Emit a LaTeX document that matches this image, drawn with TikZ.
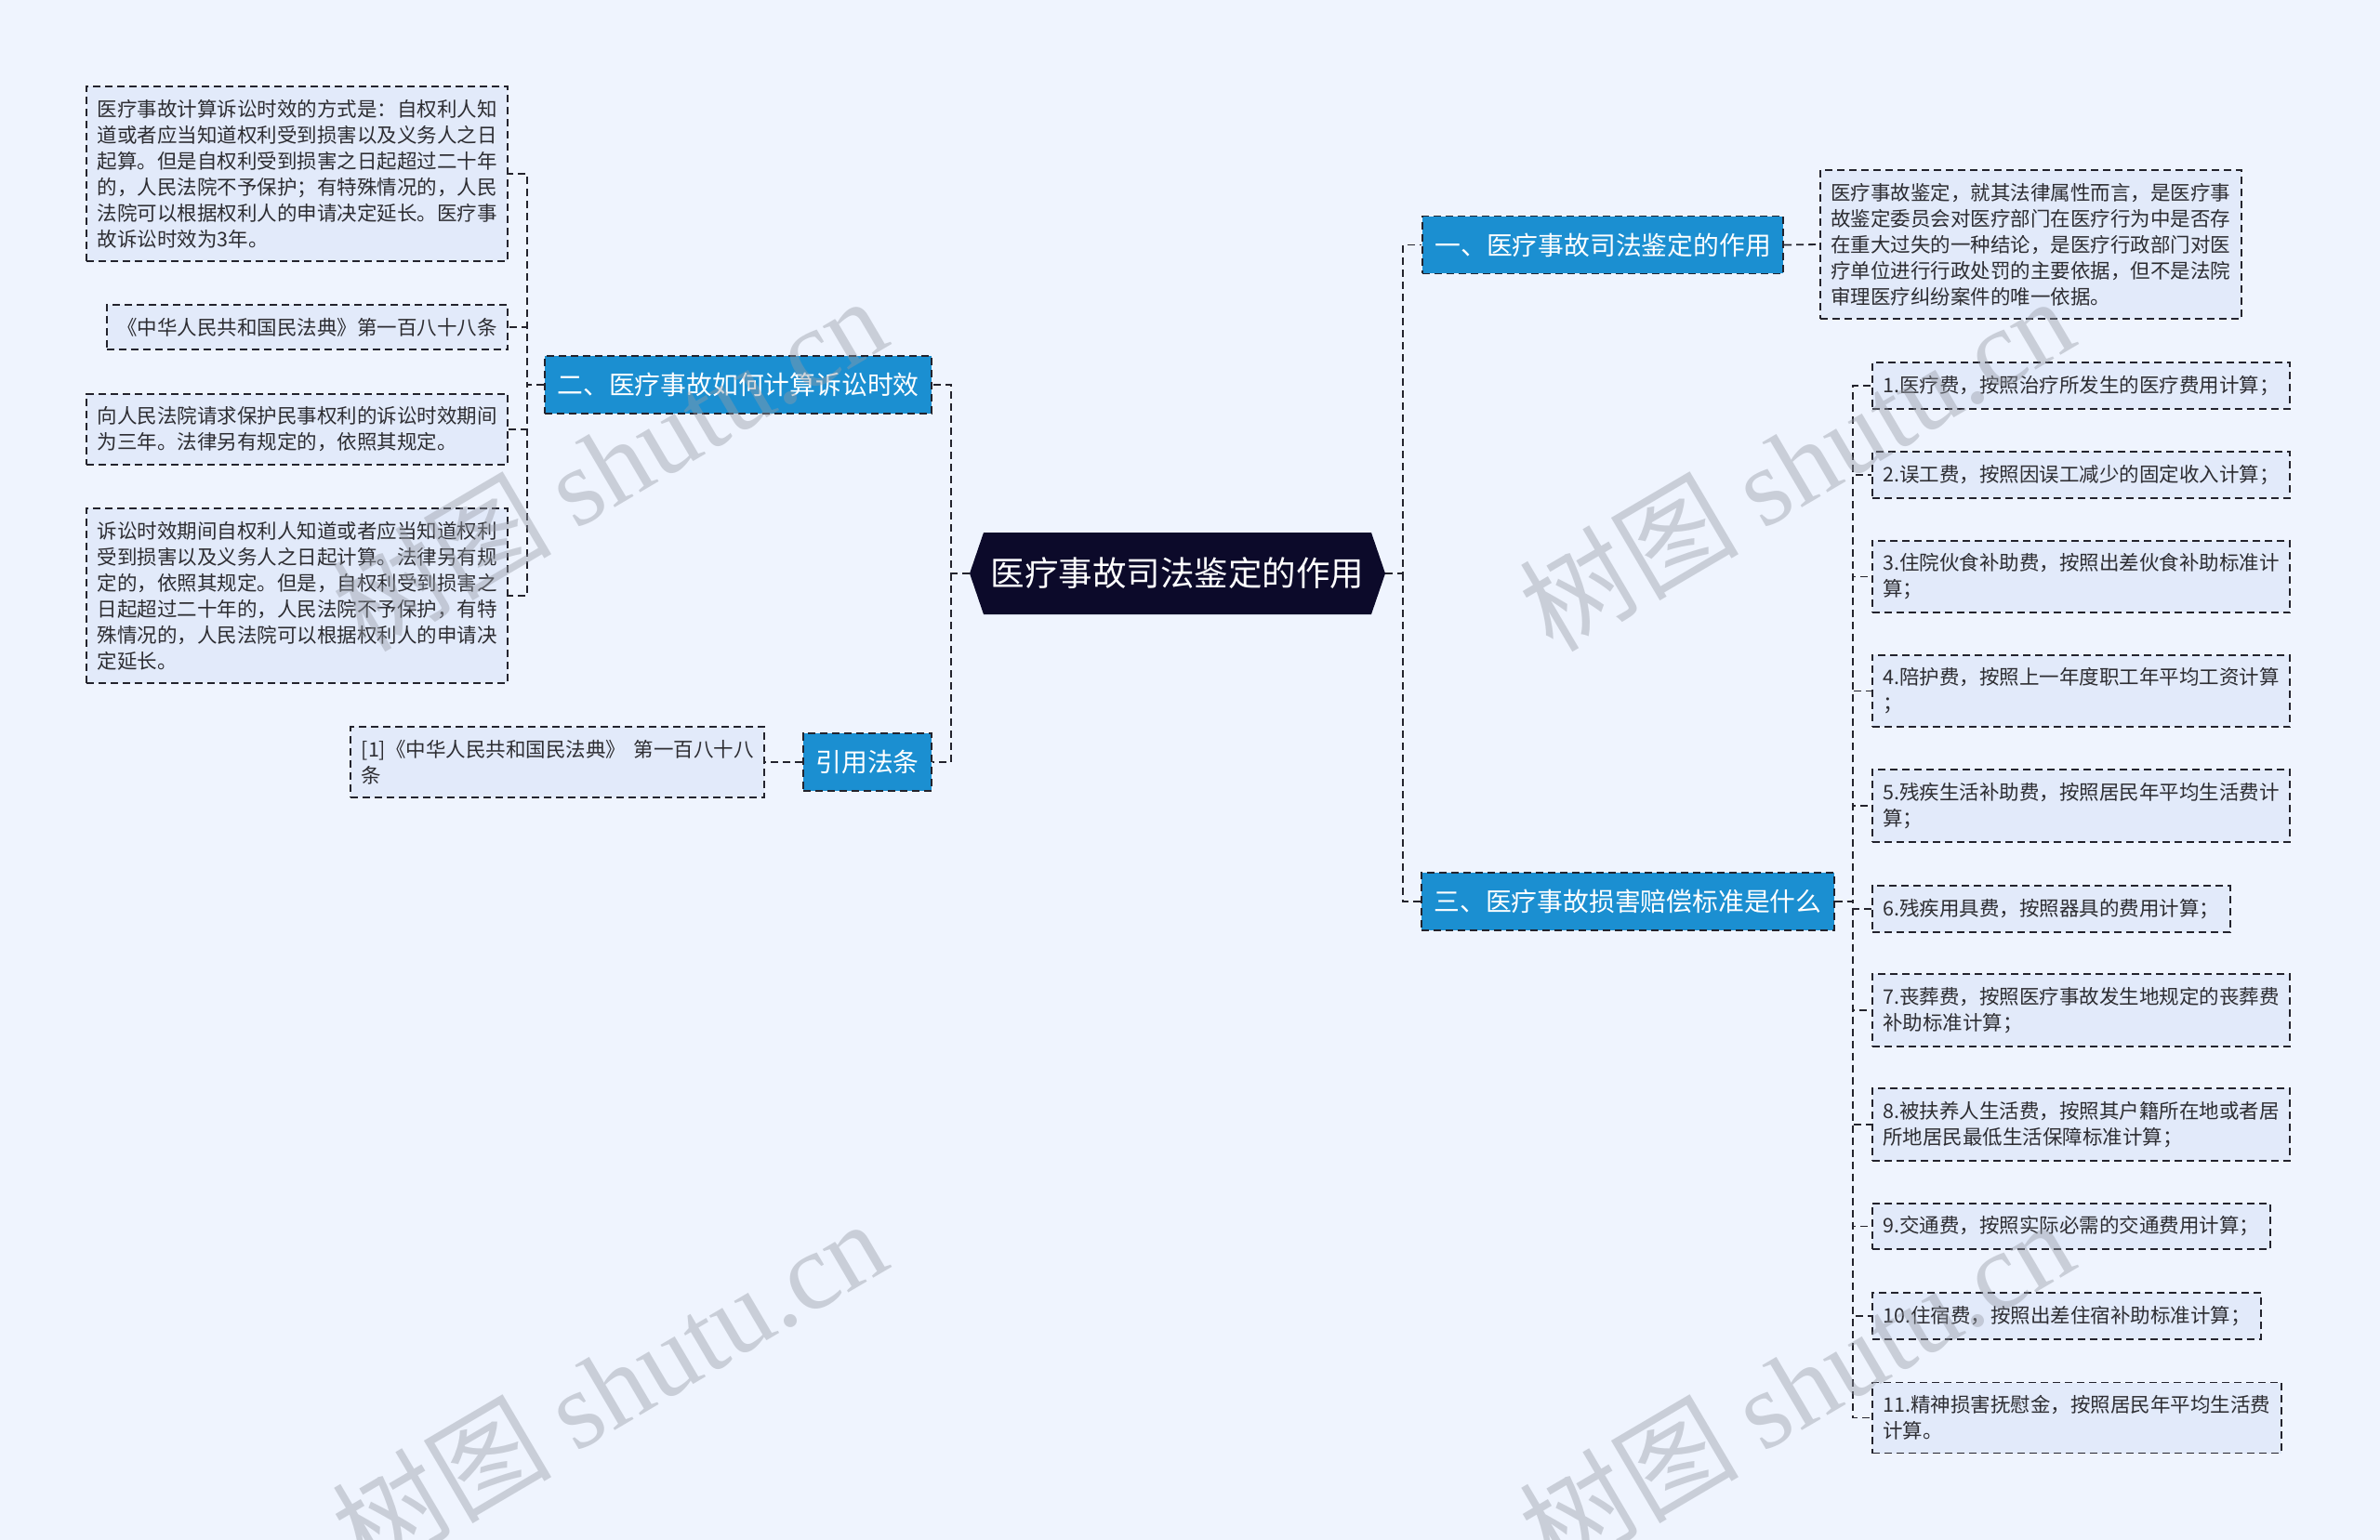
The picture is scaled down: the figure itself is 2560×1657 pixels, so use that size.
\documentclass[tikz,border=0pt]{standalone}
\usepackage{fontspec}
\setmainfont{Noto Sans CJK SC}
\newfontfamily\marksfont{Liberation Serif}

\definecolor{bgcol}{RGB}{239,244,254}
\definecolor{leafcol}{RGB}{226,234,250}
\definecolor{bluecol}{RGB}{27,143,209}
\definecolor{rootcol}{RGB}{12,10,42}
\definecolor{edgecol}{RGB}{35,35,45}
\definecolor{textcol}{RGB}{45,45,50}
\definecolor{markcol}{RGB}{150,155,165}

\tikzset{
	leaf/.style={draw=edgecol, dash pattern=on 8pt off 5pt, line width=1.8pt, fill=leafcol,
		align=left, inner xsep=11.5pt, inner ysep=14pt, text=textcol,
		font=\fontsize{21.5pt}{28pt}\selectfont},
	branch/.style={draw=edgecol, dash pattern=on 8pt off 5pt, line width=1.8pt, fill=bluecol,
		inner xsep=13.5pt, inner ysep=18pt, text=white,
		font=\fontsize{27.8pt}{34pt}\selectfont},
	link/.style={draw=edgecol, dash pattern=on 8pt off 5pt, line width=1.8pt},
	wmark/.style={text=markcol, opacity=0.42, rotate=30.5, font=\fontsize{118pt}{122pt}\selectfont},
}

\begin{document}
\begin{tikzpicture}[x=1pt, y=-1pt]
	\useasboundingbox (0,0) rectangle (2560,1657);
	\fill[bgcol] (0,0) rectangle (2560,1657);

	% root
	\fill[rootcol] (1043,617) -- (1058,573) -- (1475,573) -- (1490,617) -- (1475,661) -- (1058,661) -- cycle;
	\node[text=white, minimum width=447pt, inner sep=0pt, font=\fontsize{36.5pt}{44pt}\selectfont] (root) at (1266.5,617) {医疗事故司法鉴定的作用};

	% left side
	\node[branch, anchor=east] (b2) at (1003,414) {二、医疗事故如何计算诉讼时效};
	\node[branch, anchor=east] (cite) at (1003,820) {引用法条};

	\node[leaf, anchor=east] (la) at (547,187) {医疗事故计算诉讼时效的方式是：自权利人知\\道或者应当知道权利受到损害以及义务人之日\\起算。但是自权利受到损害之日起超过二十年\\的，人民法院不予保护；有特殊情况的，人民\\法院可以根据权利人的申请决定延长。医疗事\\故诉讼时效为3年。};
	\node[leaf, anchor=east] (lb) at (547,352) {《中华人民共和国民法典》第一百八十八条};
	\node[leaf, anchor=east] (lc) at (547,462) {向人民法院请求保护民事权利的诉讼时效期间\\为三年。法律另有规定的，依照其规定。};
	\node[leaf, anchor=east] (ld) at (547,641) {诉讼时效期间自权利人知道或者应当知道权利\\受到损害以及义务人之日起计算。法律另有规\\定的，依照其规定。但是，自权利受到损害之\\日起超过二十年的，人民法院不予保护，有特\\殊情况的，人民法院可以根据权利人的申请决\\定延长。};
	\node[leaf, anchor=east] (lf) at (823,820) {[1]《中华人民共和国民法典》\, 第一百八十八\\条};

	\coordinate (lbus) at (1023,617);
	\coordinate (b2bus) at (567,414);
	\draw[link] (root.west) -- (lbus) |- (b2.east);
	\draw[link] (lbus) |- (cite.east);
	\foreach \n in {la,lb,lc,ld}
		\draw[link] (b2.west) -- (b2bus) |- (\n.east);
	\draw[link] (cite.west) -- (lf.east);

	% right side
	\node[branch, anchor=west] (b1) at (1529,263.5) {一、医疗事故司法鉴定的作用};
	\node[branch, anchor=west] (b3) at (1528,970) {三、医疗事故损害赔偿标准是什么};

	\node[leaf, anchor=west] (le) at (1957,263) {医疗事故鉴定，就其法律属性而言，是医疗事\\故鉴定委员会对医疗部门在医疗行为中是否存\\在重大过失的一种结论，是医疗行政部门对医\\疗单位进行行政处罚的主要依据，但不是法院\\审理医疗纠纷案件的唯一依据。};

	\node[leaf, anchor=west] (r1) at (2013,415) {1.医疗费，按照治疗所发生的医疗费用计算；};
	\node[leaf, anchor=west] (r2) at (2013,511) {2.误工费，按照因误工减少的固定收入计算；};
	\node[leaf, anchor=west] (r3) at (2013,620.5) {3.住院伙食补助费，按照出差伙食补助标准计\\算；};
	\node[leaf, anchor=west] (r4) at (2013,743.5) {4.陪护费，按照上一年度职工年平均工资计算\\；};
	\node[leaf, anchor=west] (r5) at (2013,867) {5.残疾生活补助费，按照居民年平均生活费计\\算；};
	\node[leaf, anchor=west] (r6) at (2013,978) {6.残疾用具费，按照器具的费用计算；};
	\node[leaf, anchor=west] (r7) at (2013,1087) {7.丧葬费，按照医疗事故发生地规定的丧葬费\\补助标准计算；};
	\node[leaf, anchor=west] (r8) at (2013,1210) {8.被扶养人生活费，按照其户籍所在地或者居\\所地居民最低生活保障标准计算；};
	\node[leaf, anchor=west] (r9) at (2013,1319.5) {9.交通费，按照实际必需的交通费用计算；};
	\node[leaf, anchor=west] (r10) at (2013,1416) {10.住宿费，按照出差住宿补助标准计算；};
	\node[leaf, anchor=west] (r11) at (2013,1525.5) {11.精神损害抚慰金，按照居民年平均生活费\\计算。};

	\coordinate (rbus) at (1509,617);
	\coordinate (b3bus) at (1993,970);
	\draw[link] (root.east) -- (rbus) |- (b1.west);
	\draw[link] (rbus) |- (b3.west);
	\draw[link] (b1.east) -- (le.west);
	\foreach \n in {1,...,11}
		\draw[link] (b3.east) -- (b3bus) |- (r\n.west);

	% watermarks
	\begin{scope}
		\clip (0,0) rectangle (2560,1657);
		\foreach \wx/\wy in {655/498, 1932/498, 655/1491, 1932/1491}
			\node[wmark] (mark-\wx-\wy) at (\wx,\wy) {树图 {\marksfont shutu.cn}};
	\end{scope}
\end{tikzpicture}
\end{document}
